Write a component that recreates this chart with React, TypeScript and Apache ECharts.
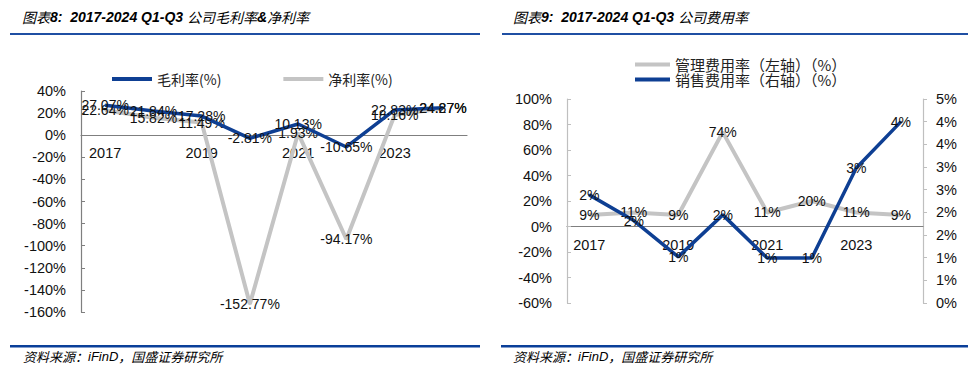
import React, { useEffect, useRef } from "react";
import * as echarts from "echarts";

const years = ["2017", "2018", "2019", "2020", "2021", "2022", "2023", "2024"];
const grossMargin = [27.07, 21.84, 17.28, -2.81, 10.13, -10.65, 22.83, 24.87];
const netMargin = [22.64, 15.82, 11.49, -152.77, 1.93, -94.17, 18.16, 24.27];
const adminRate = [9, 11, 9, 74, 11, 20, 11, 9];
const salesRate = [2.65, 2.02, 1.13, 2.16, 1.1, 1.1, 3.31, 4.44];

const NUM_FONT = "'Liberation Sans', Arial, 'Noto Sans CJK SC', sans-serif";
const CJK_FONT = "'Noto Sans CJK SC', 'Liberation Sans', sans-serif";
const BLUE = "#0e3f93";
const GRAY = "#c4c4c4";
const TITLE_BLUE = "#2a52a0";
const LINE_BLUE = "#1f4fa3";

// axis ranges
const L_MIN = -160, L_MAX = 40, L_STEP = 20;
const R_MIN = -60, R_MAX = 100, R_STEP = 20;
const R2_MIN = 0, R2_MAX = 5, R2_STEP = 5 / 9;
// grid heights (layout)
const L_H = 221;
const R_H = 204;

export default function App() {
  const ref = useRef<HTMLDivElement>(null);
  useEffect(() => {
    if (!ref.current) return;
    const chart = echarts.init(ref.current, null, { renderer: "svg" });
    const axisLabelStyle = { color: "#111", fontSize: 14.5, fontFamily: NUM_FONT };
    const dataLabel = (fmt: (v: number) => string) => ({
      show: true,
      position: "inside",
      color: "#111",
      fontSize: 14,
      fontFamily: NUM_FONT,
      formatter: (p: any) => fmt(p.value),
    });
    const titleRich = {
      c: { fontFamily: CJK_FONT, fontSize: 14, fontStyle: "italic", color: TITLE_BLUE },
      e: { fontFamily: NUM_FONT, fontSize: 14, fontStyle: "italic", fontWeight: "bold", color: TITLE_BLUE },
    };
    const footRich = {
      c: { fontFamily: CJK_FONT, fontSize: 13, fontStyle: "italic", color: TITLE_BLUE },
      e: { fontFamily: NUM_FONT, fontSize: 13, fontStyle: "italic", color: TITLE_BLUE },
    };
    const lOffset = -((0 - L_MIN) / (L_MAX - L_MIN)) * L_H;
    const rOffset = -((0 - R_MIN) / (R_MAX - R_MIN)) * R_H;
    const option: any = {
      animation: false,
      backgroundColor: "#fff",
      legend: [
        {
          left: 107,
          top: 67,
          itemWidth: 40,
          itemHeight: 4,
          itemGap: 62,
          icon: "rect",
          data: ["毛利率(%)", "净利率(%)"],
          textStyle: { fontSize: 14, fontFamily: CJK_FONT, color: "#222" },
        },
        {
          left: 630,
          top: 52,
          orient: "vertical",
          itemWidth: 35,
          itemHeight: 4,
          itemGap: 0,
          icon: "rect",
          data: ["管理费用率（左轴）（%）", "销售费用率（右轴）（%）"],
          textStyle: { fontSize: 15, fontFamily: CJK_FONT, color: "#222" },
        },
      ],
      grid: [
        { left: 81, right: 501, top: 91, height: L_H },
        { left: 567, right: 45, top: 99, height: R_H },
      ],
      xAxis: [
        {
          type: "category",
          gridIndex: 0,
          data: years,
          offset: lOffset,
          axisLine: { onZero: false, lineStyle: { color: "#7f7f7f", width: 1.2 } },
          axisTick: { inside: true, length: 5, interval: 0, lineStyle: { color: "#7f7f7f" } },
          axisLabel: { ...axisLabelStyle, interval: 1, margin: 11 },
        },
        {
          type: "category",
          gridIndex: 1,
          data: years,
          offset: rOffset,
          axisLine: { onZero: false, lineStyle: { color: "#7f7f7f", width: 1.2 } },
          axisTick: { inside: true, length: 4, interval: 0, lineStyle: { color: "#7f7f7f" } },
          axisLabel: { ...axisLabelStyle, interval: 1, margin: 11 },
        },
      ],
      yAxis: [
        {
          type: "value",
          gridIndex: 0,
          min: L_MIN,
          max: L_MAX,
          interval: L_STEP,
          splitLine: { show: false },
          axisLine: { show: true, lineStyle: { color: "#7f7f7f", width: 1.2 } },
          axisTick: { show: true, inside: true, length: 4, lineStyle: { color: "#7f7f7f" } },
          axisLabel: { ...axisLabelStyle, margin: 15, formatter: (v: number) => `${Math.round(v)}%` },
        },
        {
          type: "value",
          gridIndex: 1,
          min: R_MIN,
          max: R_MAX,
          interval: R_STEP,
          splitLine: { show: false },
          axisLine: { show: true, lineStyle: { color: "#bfbfbf", width: 1.2 } },
          axisTick: { show: true, inside: true, length: 4, lineStyle: { color: "#bfbfbf" } },
          axisLabel: { ...axisLabelStyle, margin: 15, formatter: (v: number) => `${Math.round(v)}%` },
        },
        {
          type: "value",
          gridIndex: 1,
          position: "right",
          min: R2_MIN,
          max: R2_MAX,
          interval: R2_STEP,
          splitLine: { show: false },
          axisLine: { show: true, lineStyle: { color: "#bfbfbf", width: 1.2 } },
          axisTick: { show: true, inside: false, length: 4, lineStyle: { color: "#bfbfbf" } },
          axisLabel: { ...axisLabelStyle, margin: 13, formatter: (v: number) => `${Math.round(v)}%` },
        },
      ],
      series: [
        {
          name: "净利率(%)",
          type: "line",
          xAxisIndex: 0,
          yAxisIndex: 0,
          data: netMargin,
          color: GRAY,
          symbol: "circle",
          symbolSize: 2,
          lineStyle: { color: GRAY, width: 4 },
          label: dataLabel((v) => `${v.toFixed(2)}%`),
          z: 2,
        },
        {
          name: "毛利率(%)",
          type: "line",
          xAxisIndex: 0,
          yAxisIndex: 0,
          data: grossMargin,
          color: BLUE,
          symbol: "circle",
          symbolSize: 2,
          lineStyle: { color: BLUE, width: 3.5 },
          label: dataLabel((v) => `${v.toFixed(2)}%`),
          z: 3,
        },
        {
          name: "管理费用率（左轴）（%）",
          type: "line",
          xAxisIndex: 1,
          yAxisIndex: 1,
          data: adminRate,
          color: GRAY,
          symbol: "circle",
          symbolSize: 2,
          lineStyle: { color: GRAY, width: 4 },
          label: dataLabel((v) => `${Math.round(v)}%`),
          z: 2,
        },
        {
          name: "销售费用率（右轴）（%）",
          type: "line",
          xAxisIndex: 1,
          yAxisIndex: 2,
          data: salesRate,
          color: BLUE,
          symbol: "circle",
          symbolSize: 2,
          lineStyle: { color: BLUE, width: 3.5 },
          label: dataLabel((v) => `${Math.floor(v)}%`),
          z: 3,
        },
      ],
      graphic: [
        {
          type: "text",
          left: 22,
          top: 10,
          style: { text: "{c|图表}{e|8:  2017-2024 Q1-Q3 }{c|公司毛利率}{e|&}{c|净利率}", rich: titleRich },
        },
        {
          type: "text",
          left: 513,
          top: 10,
          style: { text: "{c|图表}{e|9:  2017-2024 Q1-Q3 }{c|公司费用率}", rich: titleRich },
        },
        { type: "rect", shape: { x: 10, y: 33, width: 470, height: 2 }, style: { fill: LINE_BLUE } },
        { type: "rect", shape: { x: 502, y: 33, width: 466, height: 2 }, style: { fill: LINE_BLUE } },
        { type: "rect", shape: { x: 10, y: 345, width: 470, height: 2.5 }, style: { fill: "#0a3f99" } },
        { type: "rect", shape: { x: 501, y: 345, width: 467, height: 2.5 }, style: { fill: "#0a3f99" } },
        {
          type: "text",
          left: 23,
          top: 350,
          style: { text: "{c|资料来源：}{e|iFinD}{c|，国盛证券研究所}", rich: footRich },
        },
        {
          type: "text",
          left: 513,
          top: 350,
          style: { text: "{c|资料来源：}{e|iFinD}{c|，国盛证券研究所}", rich: footRich },
        },
      ],
    };
    chart.setOption(option);
    return () => chart.dispose();
  }, []);
  return (
    <div
      ref={ref}
      style={{ position: "fixed", left: 0, top: 0, width: 968, height: 373, background: "#fff" }}
    />
  );
}
